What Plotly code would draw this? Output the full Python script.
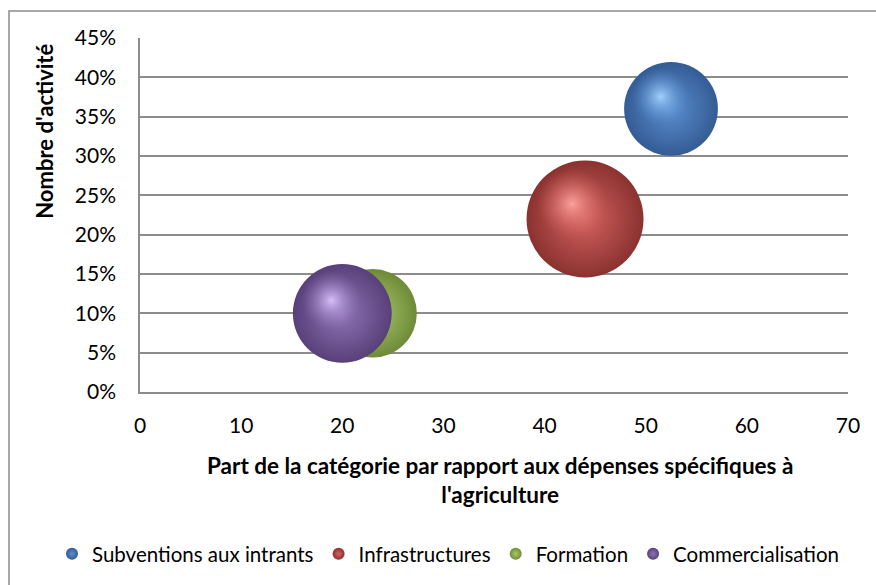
import numpy as np
import plotly.graph_objects as go

# Categories and their values
categories = ["Subventions aux intrants", "Infrastructures", "Formation", "Commercialisation"]
part_depenses = [52.5, 44, 23, 20]          # x: share of agriculture-specific spending
nombre_activite = [0.36, 0.22, 0.10, 0.10]  # y: share of activities
bubble_size = [9, 14, 8, 10]                # bubble area values

x_ticks = [0, 10, 20, 30, 40, 50, 60, 70]
y_ticks = [0, 0.05, 0.10, 0.15, 0.20, 0.25, 0.30, 0.35, 0.40, 0.45]

# Sphere styling: centre colour, dark rim, highlight (rgb triplets)
centre = [(90, 142, 208), (212, 98, 94), (170, 202, 106), (144, 116, 182)]
rim = [(52, 92, 148), (138, 50, 48), (110, 138, 56), (88, 64, 122)]
shine = [(165, 212, 255), (255, 165, 160), (225, 247, 175), (220, 195, 255)]

def rgba(c, a=1.0):
    return f"rgba({c[0]},{c[1]},{c[2]},{a})"

FONT = "Lato"
W, H = 876, 585
ML, MR, MT, MB = 140, 28, 38, 192
plot_w = W - ML - MR
plot_h = H - MT - MB
x_range = [0, 70]
y_range = [0, 0.45]
SIZEREF = 0.002046

fig = go.Figure()

px_per_x = plot_w / (x_range[1] - x_range[0])
px_per_y = plot_h / (y_range[1] - y_range[0])

for i, name in enumerate(categories):
    # main sphere body: radial gradient, gradient.color is the centre colour
    fig.add_trace(go.Scatter(
        x=[part_depenses[i]], y=[nombre_activite[i]],
        mode="markers", name=name,
        marker=dict(
            size=[bubble_size[i]], sizemode="area", sizeref=SIZEREF,
            color=rgba(rim[i]), opacity=1,
            gradient=dict(type="radial", color=rgba(centre[i])),
            line=dict(width=0),
        ),
        cliponaxis=False,
    ))
    # soft specular highlight, offset toward the upper left of the sphere
    r_px = np.sqrt(bubble_size[i] / 2 / SIZEREF)
    hx = part_depenses[i] - 0.22 * r_px / px_per_x
    hy = nombre_activite[i] + 0.26 * r_px / px_per_y
    fig.add_trace(go.Scatter(
        x=[hx], y=[hy], mode="markers", showlegend=False, hoverinfo="skip",
        marker=dict(
            size=[bubble_size[i] * 0.36], sizemode="area", sizeref=SIZEREF,
            color=rgba(centre[i], 0), opacity=1,
            gradient=dict(type="radial", color=rgba(shine[i], 0.95)),
            line=dict(width=0),
        ),
        cliponaxis=False,
    ))

fig.update_layout(
    width=W, height=H,
    margin=dict(l=ML, r=MR, t=MT, b=MB, pad=0),
    paper_bgcolor="white", plot_bgcolor="white",
    font=dict(family=FONT, size=22, color="#000000"),
    showlegend=True,
    legend=dict(
        orientation="h", x=(52 - ML) / plot_w, y=-(554 - MT - plot_h) / plot_h,
        xanchor="left", yanchor="middle",
        font=dict(family=FONT, size=20.5, color="#000000"),
        itemsizing="constant", itemwidth=30, tracegroupgap=0,
        bgcolor="rgba(0,0,0,0)",
    ),
    xaxis=dict(
        range=x_range, tickvals=x_ticks, ticktext=[str(v) for v in x_ticks],
        showgrid=False, zeroline=False,
        showline=True, linecolor="#8c8c8c", linewidth=1.5,
        ticks="", ticklabelstandoff=14,
        tickfont=dict(family=FONT, size=21),
    ),
    yaxis=dict(
        range=y_range, tickvals=y_ticks, tickformat=".0%",
        showgrid=True, gridcolor="#8c8c8c", gridwidth=1.5,
        zeroline=False,
        showline=True, linecolor="#8c8c8c", linewidth=1.5,
        ticks="", ticklabelstandoff=18,
        tickfont=dict(family=FONT, size=21),
    ),
    annotations=[
        dict(
            text="<b>Part de la catégorie par rapport aux dépenses spécifiques à<br>l'agriculture</b>",
            xref="paper", yref="paper", x=(500 - ML) / plot_w, y=-(481 - MT - plot_h) / plot_h,
            xanchor="center", yanchor="middle", showarrow=False,
            font=dict(family=FONT, size=22.5, color="#000000"),
        ),
        dict(
            text="<b>Nombre d'activité</b>",
            xref="paper", yref="paper", x=(45 - ML) / plot_w, y=(MT + plot_h - 131) / plot_h,
            xanchor="center", yanchor="middle", showarrow=False, textangle=-90,
            font=dict(family=FONT, size=22, color="#000000"),
        ),
    ],
    shapes=[
        # outer chart frame
        dict(type="rect", xref="paper", yref="paper",
             x0=(9 - ML) / plot_w, x1=(W + 20 - ML) / plot_w,
             y0=-(H + 20 - MT - plot_h) / plot_h, y1=(plot_h + MT - 11) / plot_h,
             line=dict(color="#8c8c8c", width=1.5), fillcolor="rgba(0,0,0,0)",
             layer="below"),
    ],
)

fig.write_html("out.html")
